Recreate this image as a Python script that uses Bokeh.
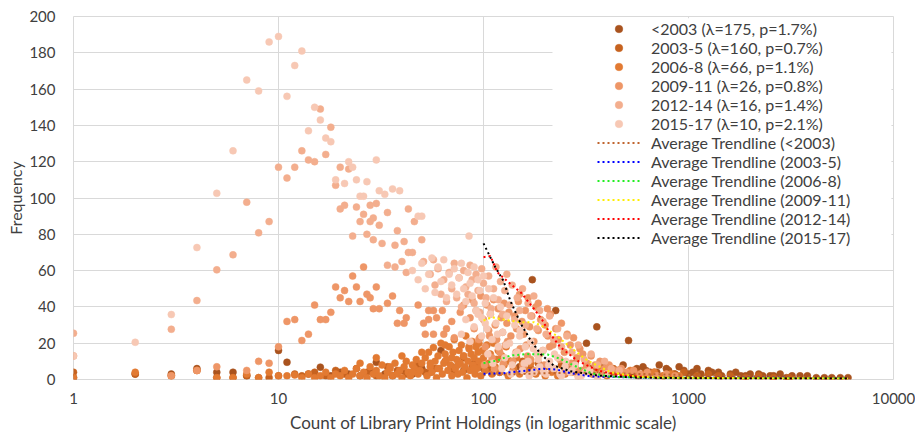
from bokeh.plotting import figure
from bokeh.models import (FixedTicker, NumeralTickFormatter, Legend, LegendItem,
                          BoxAnnotation, Range1d)
from bokeh.embed import file_html
from bokeh.resources import INLINE

# ---------------- data ----------------
x_ticks = [1, 10, 100, 1000, 10000]
y_ticks = [0, 20, 40, 60, 80, 100, 120, 140, 160, 180, 200]

labels_scatter = ["<2003 (\u03bb=175, p=1.7%)", "2003-5 (\u03bb=160, p=0.7%)",
                  "2006-8 (\u03bb=66, p=1.1%)", "2009-11 (\u03bb=26, p=0.8%)",
                  "2012-14 (\u03bb=16, p=1.4%)", "2015-17 (\u03bb=10, p=2.1%)"]
labels_trend = ["Average Trendline (<2003)", "Average Trendline (2003-5)",
                "Average Trendline (2006-8)", "Average Trendline (2009-11)",
                "Average Trendline (2012-14)", "Average Trendline (2015-17)"]

x_pre03 = [1, 2, 3, 4, 5, 6, 7, 10, 11, 14,
           16, 18, 20, 22, 25, 28, 30, 33, 36, 40,
           45, 50, 55, 62, 70, 80, 90, 100, 110, 120,
           135, 150, 173, 190, 210, 225, 250, 280, 318, 330,
           357, 380, 400, 420, 450, 480, 510, 530, 560, 600,
           620, 650, 700, 720, 780, 800, 860, 900, 950, 1000,
           1050, 1100, 1150, 1250, 1300, 1400, 1450, 1600, 1700, 1800,
           1900, 2000, 2200, 2300, 2500, 2600, 2800, 3000, 3200, 3500,
           3800, 4200, 4600, 5000, 5500, 6000]
y_pre03 = [1, 3, 3, 6, 4, 4, 2, 16, 9.5, 3,
           6.8, 2, 4, 3, 2, 5, 9.5, 3, 2, 5,
           3, 6, 4, 16, 7, 5, 9, 6, 8, 4,
           10, 7, 55, 5, 8, 38, 6, 9, 20, 6,
           29, 9, 7, 4, 5, 8, 21.5, 3, 6, 7,
           5, 4, 4, 8, 6, 5, 3, 7, 5, 3,
           4, 6, 3, 5, 4, 4, 2, 3, 4, 2,
           2, 3, 3, 2, 2, 2, 3, 1, 2, 2,
           2, 1, 1, 1, 1, 1]

x_0305 = [1, 2, 3, 4, 5, 6, 7, 8, 9, 10,
          12, 13, 15, 17, 19, 21, 24, 27, 30, 34,
          38, 42, 47, 52, 58, 65, 72, 80, 88, 95,
          105, 115, 125, 140, 155, 170, 185, 200, 220, 240,
          260, 290, 320, 350, 390, 430, 480, 540, 600, 680,
          760, 850, 950, 1100, 1250, 1400, 1600, 1900, 2200, 2600,
          3100]
y_0305 = [4, 3, 2, 5, 1, 1, 2, 1, 1, 2,
          3, 2, 4, 2, 5, 3, 6, 4, 2, 7,
          5, 3, 8, 4, 6, 10, 5, 12, 7, 9,
          6, 11, 8, 5, 10, 6, 9, 7, 5, 8,
          6, 4, 7, 5, 3, 6, 4, 5, 3, 4,
          2, 3, 4, 2, 3, 2, 2, 1, 2, 1,
          1]

x_0608 = [1, 2, 3, 4, 5, 6, 7, 8, 9, 10,
          11, 12, 13, 14, 15, 16, 17, 18, 19, 20,
          21, 22, 23, 24, 25, 26, 27, 28, 29, 30,
          31, 32, 33, 34, 35, 36, 37, 38, 39, 40,
          41, 42, 43, 44, 45, 46, 47, 48, 49, 50,
          52, 53, 54, 55, 56, 57, 58, 59, 60, 61,
          62, 63, 64, 65, 66, 67, 68, 69, 70, 71,
          72, 73, 74, 75, 76, 77, 78, 79, 80, 81,
          82, 83, 84, 85, 86, 87, 88, 89, 90, 91,
          92, 93, 94, 95, 96, 97, 98, 99, 100, 102,
          104, 106, 108, 110, 112, 114, 116, 118, 120, 123,
          126, 129, 132, 135, 140, 145, 150, 155, 160, 170,
          180, 190, 200, 215, 230, 250,
          25, 30, 35, 40, 45, 50, 55, 60, 65, 70,
          75, 80, 85, 90, 95, 270, 290, 310, 340, 370,
          400, 440, 480, 520, 570, 620, 680, 750, 820, 900]
y_0608 = [1, 4, 2, 5, 1, 1, 3, 1, 4, 2,
          2, 2.5, 1, 3, 1, 2, 4, 1, 3, 2,
          5, 1, 3, 6, 2, 4, 1, 7, 3, 5,
          2, 8, 1, 4, 6, 2, 9, 3, 5, 1,
          7, 10, 4, 2, 8, 6, 11, 3, 5, 9,
          12, 2, 15, 7, 4, 17.6, 10, 1, 13, 6,
          20, 3, 9, 14, 11, 5, 18, 8, 2, 15,
          22, 6, 11, 3, 16, 9, 19, 4, 13, 7,
          24, 1, 10, 17, 5, 14, 21, 8, 12, 3,
          18, 6, 15, 10, 23, 2, 8, 16, 12, 5,
          19, 9, 14, 3, 20, 7, 11, 16, 4, 13,
          8, 18, 2, 10, 6, 12, 3, 8, 5, 9,
          3, 6, 2, 4, 2, 3,
          9, 12, 7, 13, 4, 15, 9, 6, 19, 12,
          8, 13, 18, 6, 20, 4, 2, 5, 3, 6,
          2, 4, 3, 5, 2, 3, 4, 2, 3, 2]

x_0911 = [1, 3, 4, 5, 7, 8, 9, 10, 11, 12,
          13, 14, 15, 16, 17, 18, 19, 20, 21, 22,
          23, 24, 25, 26, 27, 28, 29, 30, 31, 34,
          36, 38, 39, 41, 42, 48, 51, 52, 54, 54,
          57, 57, 59, 63, 64, 66, 70, 72, 77, 80,
          86, 88, 90, 92, 95, 97, 100, 102, 104, 106,
          108, 110, 112, 114, 116, 118, 120, 122, 124, 126,
          128, 130, 133, 136, 139, 142, 145, 148, 150, 151,
          154, 157, 160, 164, 165, 168, 172, 176, 180, 185,
          185, 190, 195, 200, 205, 206, 212, 218, 225, 232,
          240, 248, 256, 265, 275, 285, 295, 305, 320, 335,
          350, 370, 390, 410, 440, 470, 500, 540, 580, 630,
          700, 780, 860,
          101, 107, 113, 119, 125, 131, 138, 144, 156, 162,
          170, 178, 188, 198, 210, 222, 236, 250, 268, 282,
          300, 318, 345, 380]
y_0911 = [13, 2, 5, 7, 5, 10, 9, 18, 32, 33,
          21.5, 25, 41, 33, 33, 37, 51, 45, 49, 43,
          57, 51, 43, 62, 47, 45, 39, 51, 39, 42,
          46, 31, 38, 31, 34, 41, 31, 25, 38, 33,
          38, 25, 34, 38, 25, 28, 32, 23, 37, 41,
          34, 44, 28, 38, 22, 46, 33, 18, 41, 27,
          36, 12, 44, 30, 22, 39, 15, 34, 26, 42,
          19, 31, 37, 24, 10, 35, 28, 43, 47, 17,
          32, 25, 38, 13, 45, 29, 35, 21, 40, 27,
          42, 33, 16, 30, 39, 24, 36, 19, 28, 22,
          31, 15, 25, 19, 23, 12, 17, 14, 9, 13,
          8, 10, 6, 8, 5, 6, 4, 5, 3, 4,
          2, 3, 2,
          8, 24, 6, 17, 9, 21, 4, 15, 7, 19,
          11, 5, 14, 8, 18, 6, 11, 4, 9, 6,
          5, 7, 3, 4]

x_1214 = [1, 3, 4, 5, 6, 7, 8, 9, 10, 11,
          12, 13, 14, 15, 16, 17, 18, 19, 20, 20,
          21, 22, 23, 24, 25, 26, 27, 28, 28, 29,
          29, 30, 31, 32, 34, 34, 37, 37, 38, 40,
          41, 42, 43, 43, 45, 46, 50, 51, 55, 57,
          58, 60, 62, 64, 66, 68, 70, 72, 74, 76,
          78, 80, 82, 84, 86, 88, 90, 92, 94, 96,
          98, 100, 103, 106, 109, 112, 115, 118, 121, 124,
          127, 130, 134, 138, 142, 146, 150, 155, 160, 165,
          170, 176, 182, 188, 195, 202, 210, 220, 230, 240,
          255, 270, 290, 310, 335, 360, 390, 420, 460]
y_1214 = [25.5, 27.7, 43.5, 60.4, 68.7, 97.7, 80.8, 87, 117, 111,
          117, 126, 121, 120, 149, 124, 139, 107, 117, 94,
          96, 116, 79, 95, 87, 91, 80, 96, 87, 89,
          77, 97, 85, 75, 92, 63, 74, 62, 82, 65,
          76, 59, 94, 70, 70, 87, 77, 65, 58, 66,
          52, 61, 47, 55, 43, 59, 50, 64, 45, 56,
          40, 60, 51, 47, 63, 55, 42, 58, 49, 37,
          61, 53, 45, 57, 39, 50, 62, 44, 54, 36,
          49, 58, 41, 52, 33, 45, 38, 50, 30, 42,
          35, 46, 28, 38, 32, 25, 35, 22, 28, 18,
          24, 15, 19, 11, 14, 8, 10, 6, 5]

x_1517 = [1, 2, 3, 4, 5, 6, 7, 8, 9, 10,
          11, 12, 13, 14, 15, 16, 17, 18, 19, 21,
          22, 23, 24, 25, 26, 27, 30, 31, 33, 36,
          39, 45, 48, 48, 50, 50, 52, 54, 56, 58,
          60, 62, 64, 66, 68, 70, 72, 74, 76, 78,
          78, 80, 82, 82, 84, 85, 86, 86, 88, 90,
          90, 92, 94, 94, 96, 98, 98, 100, 102, 102,
          104, 106, 108, 110, 112, 115, 118, 121, 124, 127,
          130, 134, 138, 142, 146, 150, 155, 160, 165, 170,
          176, 182, 188, 195, 202, 210, 220, 230, 240, 250,
          265, 280, 300, 330, 360, 400,
          105, 111, 117, 123, 129, 136, 143, 151, 158, 167,
          175, 185, 196, 208, 222, 236, 252, 270, 290, 315]
y_1517 = [13, 20.5, 35.8, 72.7, 102.6, 126, 165, 159, 186, 189,
          156, 173, 181, 137, 150, 143, 133, 131, 110, 108,
          120, 117, 110, 101, 101, 109, 121, 104, 102, 105,
          104, 60, 90, 55, 90, 64, 50, 58, 67, 48,
          62, 54, 66, 45, 58, 52, 61, 47, 56, 64,
          25, 50, 43, 33, 59, 79, 53, 21, 46, 62,
          29, 38, 55, 36, 49, 34, 24, 57, 42, 31,
          28, 50, 36, 22, 45, 31, 18, 40, 26, 12,
          35, 20, 8, 30, 15, 24, 5, 18, 10, 21,
          4, 14, 7, 16, 3, 10, 6, 12, 2, 7,
          4, 8, 2, 5, 1, 3,
          14, 9, 25, 6, 19, 3, 14, 27, 9, 2,
          17, 11, 4, 8, 14, 3, 10, 5, 1, 4]

# average trendlines
tx_pre03 = [100, 150, 200, 300, 400, 600, 1000, 2000, 4000, 6000]
ty_pre03 = [2.5, 3, 3.5, 3.8, 3.5, 3, 2.5, 1.8, 1.2, 1]
tx_0305 = [100, 125, 152, 196, 228, 265, 335, 500, 1000, 3000, 6000]
ty_0305 = [3.1, 3.5, 4.6, 5.9, 5.5, 3.5, 1.7, 1.2, 1, 0.9, 0.8]
tx_0608 = [100, 117, 135, 163, 205, 237, 276, 335, 420, 700, 1500, 6000]
ty_0608 = [9, 10.5, 13.2, 14, 13.8, 11.4, 7.7, 3.5, 1.5, 1, 0.8, 0.7]
tx_0911 = [100, 110, 125, 152, 176, 196, 228, 265, 321, 418, 560, 900, 2000, 6000]
ty_0911 = [32.5, 34.3, 33, 31.6, 31.6, 29, 24, 17.8, 10.5, 4, 1.5, 1, 0.7, 0.6]
tx_1214 = [100, 108, 117, 135, 152, 176, 194, 212, 237, 286, 360, 465, 700, 1200, 2500, 6000]
ty_1214 = [67.4, 68, 59, 52.7, 48, 39, 32.5, 25, 17.8, 10.5, 5, 2.2, 1, 0.8, 0.6, 0.5]
tx_1517 = [100, 114, 125, 135, 152, 170, 190, 220, 265, 360, 560, 1000, 2000, 4000, 6000]
ty_1517 = [75, 62, 54.5, 43.5, 30.7, 21.5, 14, 7.7, 4.6, 2.2, 1, 0.7, 0.5, 0.5, 0.5]

# ---------------- styling ----------------
FONT = "Lato"
TXT = "#404040"
GRID = "#D9D9D9"
scatter_colors = ["#A9531E", "#C6621F", "#E27A32", "#EE9667", "#F3AE8E", "#F7C8B4"]
trend_colors = ["#C0652E", "#0000FF", "#22EE22", "#FFEE00", "#FF0000", "#000000"]

p = figure(width=915, height=435, x_axis_type="log",
           x_range=Range1d(1, 10000), y_range=Range1d(0, 200),
           output_backend="svg", toolbar_location=None,
           min_border_left=73, min_border_right=22, min_border_top=16,
           min_border_bottom=56)
p.background_fill_color = "white"
p.border_fill_color = "white"
p.outline_line_color = GRID

p.xaxis.ticker = FixedTicker(ticks=x_ticks)
p.xaxis.formatter = NumeralTickFormatter(format="0")
p.yaxis.ticker = FixedTicker(ticks=y_ticks)
for ax in (p.xaxis[0], p.yaxis[0]):
    ax.axis_line_color = None
    ax.major_tick_line_color = None
    ax.minor_tick_line_color = None
    ax.major_label_text_font = FONT
    ax.major_label_text_font_size = "15px"
    ax.major_label_text_color = TXT
    ax.axis_label_text_font = FONT
    ax.axis_label_text_font_style = "normal"
    ax.axis_label_text_color = TXT
p.xaxis.axis_label_text_font_size = "17px"
p.yaxis.axis_label_text_font_size = "16px"
p.xaxis.axis_label = "Count of Library Print Holdings (in logarithmic scale)"
p.yaxis.axis_label = "Frequency"
p.xaxis.major_label_standoff = 7
p.xaxis.axis_label_standoff = 5
p.yaxis.major_label_standoff = 12
p.yaxis.axis_label_standoff = 1
p.grid.grid_line_color = GRID
p.grid.grid_line_width = 1

xs = [x_pre03, x_0305, x_0608, x_0911, x_1214, x_1517]
ys = [y_pre03, y_0305, y_0608, y_0911, y_1214, y_1517]
scatter_r = []
for x, y, c in zip(xs, ys, scatter_colors):
    r = p.scatter(x, y, size=7, fill_color=c, line_color=c, line_width=0.5)
    scatter_r.append(r)

txs = [tx_pre03, tx_0305, tx_0608, tx_0911, tx_1214, tx_1517]
tys = [ty_pre03, ty_0305, ty_0608, ty_0911, ty_1214, ty_1517]
trend_r = []
for x, y, c in zip(txs, tys, trend_colors):
    r = p.line(x, y, line_color=c, line_width=2, line_dash="2 3")
    trend_r.append(r)

# white legend panel hiding the gridlines
panel = BoxAnnotation(left=217, right=9770, bottom=74, top=199,
                      fill_color="white", fill_alpha=1, line_color=None)
p.add_layout(panel)

items = [LegendItem(label=l, renderers=[r]) for l, r in zip(labels_scatter, scatter_r)]
items += [LegendItem(label=l, renderers=[r]) for l, r in zip(labels_trend, trend_r)]
legend = Legend(items=items, location=(524, 132), background_fill_alpha=0,
                border_line_color=None, padding=0, margin=0, spacing=0,
                label_height=19, glyph_height=19, glyph_width=43, label_standoff=11,
                label_text_font=FONT, label_text_font_size="16px",
                label_text_color=TXT)
p.add_layout(legend)

open("out.html", "w").write(file_html(p, INLINE))
